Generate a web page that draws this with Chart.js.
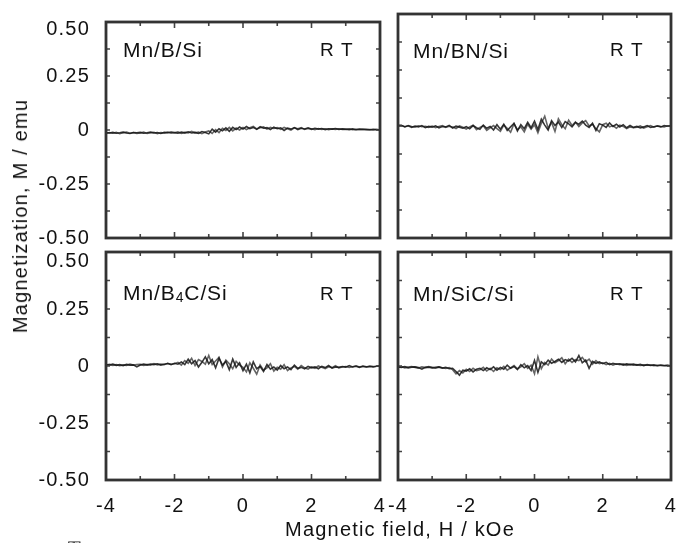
<!DOCTYPE html>
<html>
<head>
<meta charset="utf-8">
<script src="https://cdn.jsdelivr.net/npm/chart.js@4.4.1/dist/chart.umd.min.js"></script>
<style>
  html, body { margin: 0; padding: 0; background: #fff; }
  #wrap { position: relative; width: 688px; height: 543px; overflow: hidden; font-family: "Liberation Sans", Arial, sans-serif; color: #111; }
  #wrap canvas { position: absolute; left: 0; top: 0; }
  .lbl { position: absolute; white-space: nowrap; line-height: 1; }
  .sample { font-size: 21px; letter-spacing: 0.9px; }
  .rt { font-size: 19px; letter-spacing: 1.2px; }
  .title { font-size: 20px; letter-spacing: 1.2px; }
  sub { font-size: 14px; vertical-align: -2px; line-height: 0; }
</style>
</head>
<body>
<div id="wrap">
  <canvas id="bsi" width="688" height="543"></canvas>
  <canvas id="bnsi" width="688" height="543"></canvas>
  <canvas id="b4csi" width="688" height="543"></canvas>
  <canvas id="sicsi" width="688" height="543"></canvas>

  <div class="lbl sample" style="left:123px;top:39px">Mn/B/Si</div>
  <div class="lbl rt" style="left:320px;top:40px">R T</div>
  <div class="lbl sample" style="left:413px;top:40px">Mn/BN/Si</div>
  <div class="lbl rt" style="left:610px;top:40px">R T</div>
  <div class="lbl sample" style="left:123px;top:282px">Mn/B<sub>4</sub>C/Si</div>
  <div class="lbl rt" style="left:320px;top:284px">R T</div>
  <div class="lbl sample" style="left:413px;top:283px">Mn/SiC/Si</div>
  <div class="lbl rt" style="left:610px;top:284px">R T</div>

  <div class="lbl title" style="left:20px;top:216px;transform:translate(-50%,-50%) rotate(-90deg)">Magnetization, M / emu</div>
  <div class="lbl title" style="left:400px;top:519px;transform:translateX(-50%)">Magnetic field, H / kOe</div>
  <div class="lbl" style="left:67px;top:540px;font-size:15px">図 3</div>
</div>
<script>
// Field sweep, kOe
const field = [
  -4.0, -3.9, -3.8, -3.7, -3.6, -3.5, -3.4, -3.3, -3.2, -3.1,
  -3.0, -2.9, -2.8, -2.7, -2.6, -2.5, -2.4, -2.3, -2.2, -2.1,
  -2.0, -1.9, -1.8, -1.7, -1.6, -1.5, -1.4, -1.3, -1.2, -1.1,
  -1.0, -0.9, -0.8, -0.7, -0.6, -0.5, -0.4, -0.3, -0.2, -0.1,
  0.0, 0.1, 0.2, 0.3, 0.4, 0.5, 0.6, 0.7, 0.8, 0.9,
  1.0, 1.1, 1.2, 1.3, 1.4, 1.5, 1.6, 1.7, 1.8, 1.9,
  2.0, 2.1, 2.2, 2.3, 2.4, 2.5, 2.6, 2.7, 2.8, 2.9,
  3.0, 3.1, 3.2, 3.3, 3.4, 3.5, 3.6, 3.7, 3.8, 3.9,
  4.0
];

// Mn/B/Si, emu (up and down sweeps)
const bsiUp = [
  -0.012, -0.014, -0.011, -0.015, -0.013, -0.010, -0.014, -0.016, -0.012, -0.013,
  -0.011, -0.015, -0.013, -0.010, -0.014, -0.012, -0.016, -0.011, -0.013, -0.009,
  -0.012, -0.015, -0.010, -0.013, -0.008, -0.014, -0.011, -0.016, -0.007, -0.012,
  -0.018, 0.004, -0.010, 0.006, -0.004, 0.010, -0.006, 0.012, 0.002, 0.014,
  0.004, 0.016, 0.006, 0.012, 0.003, 0.015, 0.008, 0.011, 0.002, 0.013,
  0.006, 0.010, -0.002, 0.009, 0.004, 0.011, 0.002, 0.008, 0.005, 0.010,
  0.003, 0.008, 0.004, 0.007, 0.002, 0.006, 0.004, 0.007, 0.003, 0.005,
  0.004, 0.002, 0.005, 0.001, 0.004, 0.002, 0.003, 0.001, 0.003, 0.002,
  0.001
];
const bsiDown = [
  -0.016, -0.012, -0.015, -0.011, -0.017, -0.013, -0.010, -0.015, -0.012, -0.016,
  -0.014, -0.010, -0.016, -0.013, -0.011, -0.017, -0.012, -0.014, -0.010, -0.015,
  -0.013, -0.009, -0.016, -0.011, -0.014, -0.006, -0.013, -0.010, -0.017, -0.009,
  -0.004, -0.016, 0.002, -0.012, 0.008, -0.002, 0.012, -0.004, 0.009, 0.000,
  0.012, 0.002, 0.010, 0.017, 0.005, 0.010, 0.014, 0.004, 0.012, 0.007,
  0.011, 0.003, 0.012, 0.006, 0.000, 0.010, 0.006, 0.011, 0.003, 0.007,
  0.006, 0.002, 0.007, 0.003, 0.006, 0.002, 0.005, 0.003, 0.006, 0.002,
  0.002, 0.005, 0.001, 0.003, 0.002, 0.004, 0.001, 0.002, 0.000, 0.002,
  0.000
];

// Mn/BN/Si
const bnsiUp = [
  0.004, 0.002, -0.003, 0.001, -0.006, 0.000, -0.004, 0.002, -0.007, -0.002,
  -0.005, 0.001, -0.008, -0.002, -0.004, 0.003, -0.009, -0.001, -0.005, -0.010,
  -0.003, -0.012, 0.002, -0.008, -0.015, 0.004, -0.010, -0.002, -0.018, 0.006,
  -0.014, 0.008, -0.020, -0.004, 0.012, -0.022, 0.006, -0.012, 0.016, -0.008,
  0.022, -0.016, 0.030, 0.004, -0.018, 0.024, 0.002, 0.018, -0.006, 0.020,
  0.010, -0.004, 0.016, 0.008, 0.022, 0.004, -0.006, 0.012, -0.020, 0.010,
  0.004, -0.006, 0.014, -0.002, 0.008, -0.004, 0.006, -0.008, 0.002, -0.006,
  -0.002, -0.008, -0.004, 0.002, -0.006, -0.003, 0.000, -0.004, 0.002, -0.001,
  0.002
];
const bnsiDown = [
  0.000, 0.003, -0.004, 0.002, -0.002, -0.005, 0.001, -0.003, -0.001, -0.006,
  0.000, -0.007, -0.002, 0.002, -0.006, -0.001, -0.004, -0.011, 0.000, -0.006,
  -0.014, -0.004, 0.003, -0.016, -0.006, 0.001, -0.020, -0.008, 0.002, -0.012,
  -0.024, 0.004, -0.010, -0.028, 0.010, -0.016, -0.004, -0.026, 0.008, -0.014,
  0.006, -0.030, 0.012, 0.044, -0.010, 0.016, -0.024, 0.032, 0.006, -0.012,
  0.026, 0.002, 0.018, -0.002, 0.014, 0.024, 0.000, 0.008, -0.012, -0.026,
  0.006, 0.012, -0.004, 0.002, -0.010, 0.004, -0.002, -0.012, -0.004, -0.008,
  -0.006, 0.000, -0.009, -0.003, 0.002, -0.005, 0.001, -0.002, -0.004, 0.001,
  0.000
];

// Mn/B4C/Si
const b4csiUp = [
  0.006, 0.004, 0.008, 0.003, 0.006, 0.002, 0.007, 0.004, 0.005, -0.004,
  0.004, 0.008, 0.005, 0.009, 0.006, 0.010, 0.004, 0.008, 0.011, 0.006,
  0.012, 0.008, 0.018, 0.006, 0.030, 0.010, 0.024, -0.004, 0.016, 0.040,
  0.010, 0.028, -0.008, 0.034, 0.004, 0.020, -0.016, 0.030, -0.006, 0.014,
  -0.020, 0.008, -0.030, 0.018, -0.012, -0.002, -0.024, 0.006, -0.014, -0.004,
  -0.018, 0.002, -0.012, -0.004, -0.016, 0.004, -0.010, -0.006, -0.012, -0.002,
  -0.008, -0.004, -0.012, -0.002, -0.007, 0.002, -0.009, -0.004, -0.006, -0.002,
  -0.005, 0.002, -0.004, -0.001, -0.006, 0.000, -0.003, -0.002, -0.004, -0.001,
  0.000
];
const b4csiDown = [
  0.004, 0.007, 0.003, 0.006, 0.001, 0.005, 0.003, 0.008, 0.004, 0.006,
  0.007, 0.003, 0.006, 0.004, 0.010, 0.005, 0.009, 0.006, 0.012, 0.008,
  0.010, 0.016, 0.004, 0.024, 0.012, 0.034, 0.002, 0.028, 0.020, 0.008,
  0.046, 0.006, 0.022, 0.038, -0.004, 0.026, 0.010, -0.012, 0.020, 0.004,
  -0.006, -0.026, 0.014, -0.010, -0.036, 0.004, -0.018, -0.008, 0.010, -0.022,
  -0.006, -0.014, 0.006, -0.020, -0.008, -0.002, -0.014, 0.002, -0.008, -0.014,
  -0.004, -0.010, 0.000, -0.006, -0.011, -0.003, -0.007, 0.001, -0.008, -0.004,
  -0.002, -0.006, -0.003, 0.001, -0.004, -0.002, -0.005, 0.000, -0.002, -0.001,
  0.001
];

// Mn/SiC/Si
const sicsiUp = [
  -0.004, -0.006, -0.003, -0.008, -0.005, -0.004, -0.007, -0.014, -0.006, -0.005,
  -0.008, -0.006, -0.004, -0.009, -0.006, -0.012, -0.010, -0.024, -0.040, -0.018,
  -0.022, -0.012, -0.026, -0.014, -0.010, -0.020, -0.008, -0.016, -0.004, -0.018,
  -0.006, -0.014, 0.004, -0.010, -0.002, -0.016, 0.006, -0.008, 0.002, -0.020,
  0.024, -0.028, 0.018, 0.006, 0.026, 0.012, 0.020, 0.030, 0.016, 0.028,
  0.022, 0.034, 0.018, 0.046, 0.014, 0.026, -0.010, 0.020, 0.012, 0.018,
  0.010, 0.016, 0.006, 0.012, 0.008, 0.010, 0.004, 0.009, 0.006, 0.008,
  0.004, 0.007, 0.002, 0.006, 0.003, 0.005, 0.001, 0.004, 0.002, 0.003,
  0.001
];
const sicsiDown = [
  -0.006, -0.003, -0.008, -0.005, -0.002, -0.006, -0.009, -0.004, -0.007, -0.003,
  -0.006, -0.010, -0.005, -0.008, -0.011, -0.007, -0.016, -0.034, -0.020, -0.030,
  -0.014, -0.024, -0.010, -0.020, -0.016, -0.006, -0.022, -0.010, -0.024, -0.008,
  -0.016, -0.002, -0.018, -0.008, 0.002, -0.012, -0.004, 0.010, -0.010, 0.004,
  -0.034, 0.040, -0.012, 0.016, 0.004, 0.030, 0.014, 0.024, 0.036, 0.010,
  0.030, 0.016, 0.028, 0.024, 0.038, 0.018, 0.030, 0.008, 0.024, 0.010,
  0.014, 0.006, 0.012, 0.004, 0.010, 0.006, 0.009, 0.003, 0.007, 0.004,
  0.006, 0.002, 0.005, 0.003, 0.004, 0.001, 0.003, 0.002, 0.001, 0.002,
  0.000
];

// Axis labels
const xTickValues = [-4, -2, 0, 2, 4];
const xTickText = ['-4', '-2', '0', '2', '4'];
const yTickValues = [-0.5, -0.25, 0, 0.25, 0.5];
const yTickText = ['-0.50', '-0.25', '0', '0.25', '0.50'];

const tickFamily = "'Liberation Sans', Arial, sans-serif";

function labelFor(values, texts, v) {
  const i = values.findIndex(t => Math.abs(t - v) < 1e-9);
  return i >= 0 ? texts[i] : '';
}

function pts(values) {
  return field.map((h, i) => ({ x: h, y: values[i] }));
}

// frame + inward ticks on all four sides, like the original plots
const frameTicks = {
  id: 'frameTicks',
  beforeLayout(chart) { chart.ctx.letterSpacing = '1.2px'; },
  beforeDraw(chart) { chart.ctx.letterSpacing = '1.2px'; },
  afterDatasetsDraw(chart) {
    const { ctx, chartArea: a, scales } = chart;
    ctx.save();
    ctx.strokeStyle = '#444';
    ctx.lineWidth = 1.6;
    ctx.beginPath();
    scales.x.ticks.forEach(t => {
      const px = scales.x.getPixelForValue(t.value);
      const len = Math.abs(t.value % 2) < 1e-9 ? 6 : 4;
      ctx.moveTo(px, a.top); ctx.lineTo(px, a.top + len);
      ctx.moveTo(px, a.bottom); ctx.lineTo(px, a.bottom - len);
    });
    scales.y.ticks.forEach(t => {
      const py = scales.y.getPixelForValue(t.value);
      ctx.moveTo(a.left, py); ctx.lineTo(a.left + 4, py);
      ctx.moveTo(a.right, py); ctx.lineTo(a.right - 4, py);
    });
    ctx.stroke();
    ctx.lineWidth = 2.8;
    ctx.strokeStyle = '#333';
    ctx.strokeRect(a.left, a.top, a.width, a.height);
    ctx.restore();
  }
};

function makePanel(id, up, down, o) {
  new Chart(document.getElementById(id), {
    type: 'line',
    data: {
      datasets: [
        { data: pts(up), borderColor: 'rgba(20,20,20,0.85)', borderWidth: 1.6, pointRadius: 0, tension: 0 },
        { data: pts(down), borderColor: 'rgba(50,50,50,0.75)', borderWidth: 1.6, pointRadius: 0, tension: 0 }
      ]
    },
    options: {
      responsive: false,
      animation: false,
      events: [],
      layout: { padding: { top: o.top, left: 0, right: o.right, bottom: 0 } },
      plugins: { legend: { display: false }, tooltip: { enabled: false } },
      scales: {
        x: {
          type: 'linear',
          min: -4, max: 4,
          grid: { display: false },
          border: { display: false },
          ticks: {
            display: o.showX,
            stepSize: 1,
            padding: 6,
            maxRotation: 0,
            autoSkip: false,
            color: '#111',
            font: { family: tickFamily, size: 20 },
            callback: v => labelFor(xTickValues, xTickText, v)
          },
          afterFit: s => { s.height = o.xHeight; }
        },
        y: {
          min: -0.5, max: 0.5,
          grid: { display: false },
          border: { display: false },
          ticks: {
            display: o.showY,
            stepSize: 0.125,
            padding: 8,
            autoSkip: false,
            color: '#111',
            // the top label sits a little below its tick in the original
            font: c => ({ family: tickFamily, size: 20, lineHeight: c.tick && c.tick.value === 0.5 ? o.topShift : 1.2 }),
            callback: v => {
              const t = labelFor(yTickValues, yTickText, v);
              return v === 0.5 ? ['', t] : t;
            }
          },
          afterFit: s => { s.width = o.yWidth; }
        }
      }
    },
    plugins: [frameTicks]
  });
}

makePanel('bsi', bsiUp, bsiDown, { top: 14, right: 308, yWidth: 106, xHeight: 305, showX: false, showY: true, topShift: 0.7 });
makePanel('bnsi', bnsiUp, bnsiDown, { top: 14, right: 17, yWidth: 398, xHeight: 305, showX: false, showY: false, topShift: 0.7 });
makePanel('b4csi', b4csiUp, b4csiDown, { top: 252, right: 308, yWidth: 106, xHeight: 63, showX: true, showY: true, topShift: 0.9 });
makePanel('sicsi', sicsiUp, sicsiDown, { top: 252, right: 17, yWidth: 398, xHeight: 63, showX: true, showY: false, topShift: 0.9 });
</script>
</body>
</html>
